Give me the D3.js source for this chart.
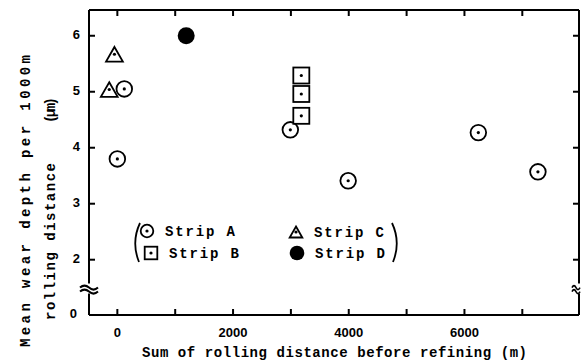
<!DOCTYPE html>
<html>
<head>
<meta charset="utf-8">
<script src="https://cdn.jsdelivr.net/npm/d3@7"></script>
<style>
  body { margin: 0; background: #fff; }
  svg { display: block; }
  .tick-lbl { font-family: "Liberation Sans", Arial, sans-serif; font-weight: bold; font-size: 13px; }
  .title { font-family: "Liberation Mono", monospace; font-weight: bold; font-size: 14px; }
</style>
</head>
<body>
<svg width="581" height="361"></svg>
<script>
// data
const stripA_x = [0, 120, 2990, 3990, 6240, 7270];
const stripA_y = [3.80, 5.05, 4.32, 3.41, 4.27, 3.57];
const stripB_x = [3180, 3180, 3180];
const stripB_y = [5.29, 4.96, 4.57];
const stripC_x = [-50, -140];
const stripC_y = [5.67, 5.04];
const stripD_x = [1190];
const stripD_y = [6.0];

const xTicks = [0, 1000, 2000, 3000, 4000, 5000, 6000, 7000];
const xTickLabels = ["0", "", "2000", "", "4000", "", "6000", ""];
const yTicks = [2, 3, 4, 5, 6];
const yTickLabels = ["0", "2", "3", "4", "5", "6"];

const svg = d3.select("svg");
const pL = 89, pR = 579, pT = 10, pB = 315;

const x = d3.scaleLinear([-490, 7980], [pL, pR]);
// broken axis: 0..1.5 squeezed into the bottom strip
const y = d3.scaleLinear([0, 1.5, 6.46], [pB, 287.7, pT]);

const zip = (xs, ys) => xs.map((d, i) => ({x: d, y: ys[i]}));

const g = svg.append("g").attr("stroke", "#000").attr("fill", "none").attr("stroke-width", 2);

//frame
g.append("line").attr("x1", pL).attr("x2", pR).attr("y1", pT).attr("y2", pT);
g.append("line").attr("x1", pL).attr("x2", pR).attr("y1", pB).attr("y2", pB);
const breakY = y(1.45);
[pL, pR].forEach(ax => {
  g.append("line").attr("x1", ax).attr("x2", ax).attr("y1", pT).attr("y2", breakY - 5);
  g.append("line").attr("x1", ax).attr("x2", ax).attr("y1", breakY + 5).attr("y2", pB);
});

//break marks
const wiggle = (cx, cy, w) => `M${cx - w},${cy + 1} q${w / 2},-4 ${w},0 t${w},0`;
[-2, 2].forEach(off => {
  g.append("path").attr("d", wiggle(pL, breakY + off, 9));
});
[-2, 2].forEach(off => {
  g.append("path").attr("d", wiggle(pR - 3, breakY + off, 4)).attr("stroke-width", 1.6);
});

//ticks, all pointing inward
const tk = svg.append("g").attr("stroke", "#000").attr("stroke-width", 2);
tk.selectAll(".xb").data(xTicks).enter().append("line")
  .attr("x1", d => x(d)).attr("x2", d => x(d)).attr("y1", pB).attr("y2", pB - 6);
tk.selectAll(".xt").data(xTicks).enter().append("line")
  .attr("x1", d => x(d)).attr("x2", d => x(d)).attr("y1", pT).attr("y2", pT + 6);
tk.selectAll(".yl").data(yTicks).enter().append("line")
  .attr("x1", pL).attr("x2", pL + 6).attr("y1", d => y(d)).attr("y2", d => y(d));
tk.selectAll(".yr").data(yTicks).enter().append("line")
  .attr("x1", pR).attr("x2", pR - 6).attr("y1", d => y(d)).attr("y2", d => y(d));

//tick labels
svg.selectAll(".xl").data(xTicks.filter((d, i) => xTickLabels[i])).enter()
  .append("text").attr("class", "tick-lbl")
  .attr("x", d => x(d)).attr("y", 337).attr("text-anchor", "middle")
  .text(d => xTickLabels[xTicks.indexOf(d)]);
const yLblVals = [0].concat(yTicks);
svg.selectAll(".ylbl").data(yLblVals).enter()
  .append("text").attr("class", "tick-lbl")
  .attr("x", d => d === 0 ? 77 : 80).attr("y", d => y(d) + 3)
  .attr("text-anchor", "end")
  .text((d, i) => yTickLabels[i]);

//axis titles
svg.append("text").attr("class", "title")
  .attr("x", 142).attr("y", 357)
  .attr("textLength", 385).attr("lengthAdjust", "spacing")
  .text("Sum of rolling distance before refining  (m)");
svg.append("text").attr("class", "title")
  .attr("transform", "translate(30,347) rotate(-90)")
  .attr("textLength", 292).attr("lengthAdjust", "spacing")
  .text("Mean wear depth per 1000m");
svg.append("text").attr("class", "title")
  .attr("transform", "translate(55,320) rotate(-90)")
  .attr("textLength", 157).attr("lengthAdjust", "spacing")
  .text("rolling distance");
svg.append("text").attr("class", "title")
  .attr("transform", "translate(55,123) rotate(-90)")
  .attr("textLength", 26).attr("lengthAdjust", "spacing")
  .text("(μm)");

//marker shapes
const drawCircleDot = (sel, r) => {
  sel.append("circle").attr("r", r).attr("fill", "#fff").attr("stroke", "#000").attr("stroke-width", 1.8);
  sel.append("circle").attr("r", 1.6).attr("fill", "#000");
};
const drawSquareDot = (sel, h) => {
  sel.append("rect").attr("x", -h).attr("y", -h).attr("width", 2 * h).attr("height", 2 * h)
    .attr("fill", "#fff").attr("stroke", "#000").attr("stroke-width", 1.8);
  sel.append("circle").attr("r", 1.6).attr("fill", "#000");
};
const drawTriDot = (sel, h) => {
  sel.append("path").attr("d", `M0,${-h} L${h * 1.15},${h} L${-h * 1.15},${h} Z`)
    .attr("fill", "#fff").attr("stroke", "#000").attr("stroke-width", 1.8).attr("stroke-linejoin", "miter");
  sel.append("circle").attr("r", 1.6).attr("fill", "#000");
};
const drawFilled = (sel, r) => {
  sel.append("circle").attr("r", r).attr("fill", "#000");
};

const plotSeries = (data, drawer, size) => {
  svg.append("g").selectAll("g").data(data).enter().append("g")
    .attr("transform", d => `translate(${x(d.x)},${y(d.y)})`)
    .each(function () { drawer(d3.select(this), size); });
};
plotSeries(zip(stripC_x, stripC_y), drawTriDot, 7.3);
plotSeries(zip(stripA_x, stripA_y), drawCircleDot, 7.8);
plotSeries(zip(stripB_x, stripB_y), drawSquareDot, 8);
plotSeries(zip(stripD_x, stripD_y), drawFilled, 8.5);

//legend
const legendItems = [
  {label: "Strip  A", draw: drawCircleDot, size: 6.3, lx: 147, ly: 231},
  {label: "Strip  B", draw: drawSquareDot, size: 6.3, lx: 151, ly: 253},
  {label: "Strip  C", draw: drawTriDot, size: 5.5, lx: 296, ly: 232},
  {label: "Strip  D", draw: drawFilled, size: 7.3, lx: 297, ly: 253}
];
const lg = svg.append("g");
legendItems.forEach(it => {
  const s = lg.append("g").attr("transform", `translate(${it.lx},${it.ly})`);
  it.draw(s, it.size);
  lg.append("text").attr("class", "title")
    .attr("x", it.lx + 18).attr("y", it.ly + 5)
    .attr("textLength", 70).attr("lengthAdjust", "spacing")
    .text(it.label);
});
lg.append("path").attr("d", "M140,223 Q131,242 139,262").attr("fill", "none").attr("stroke", "#000").attr("stroke-width", 1.8);
lg.append("path").attr("d", "M392,223 Q401,242 393,262").attr("fill", "none").attr("stroke", "#000").attr("stroke-width", 1.8);
</script>
</body>
</html>
